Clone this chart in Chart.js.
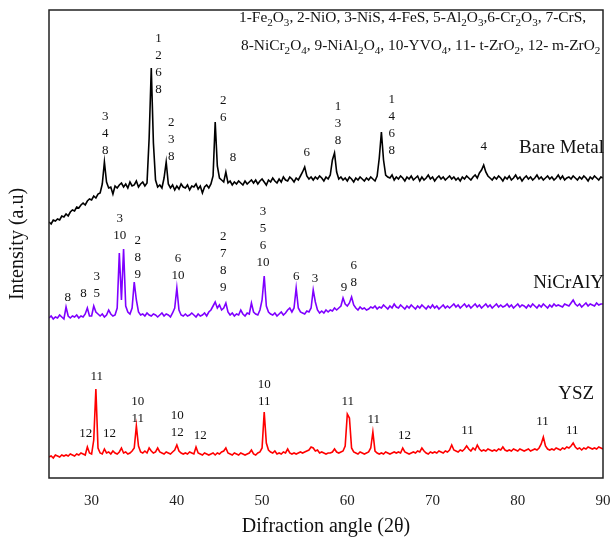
<!DOCTYPE html>
<html>
<head>
<meta charset="utf-8">
<script src="https://cdn.jsdelivr.net/npm/chart.js@4/dist/chart.umd.min.js"></script>
<style>
html,body{margin:0;padding:0;background:#fff;}
#wrap{width:610px;height:539px;}
</style>
</head>
<body>
<div id="wrap"><canvas id="c" width="610" height="539"></canvas></div>
<script>
// ---- data ----
const angleStart = 25;
const angleStep = 0.25;
const xTicks = [30, 40, 50, 60, 70, 80, 90];
const seriesNames = ['Bare Metal', 'NiCrAlY', 'YSZ'];

const bareMetal = [
256,254,258,257, 259,258,262,261, 264,262,266,268, 267,271,270,273, 275,273,277,279,
278,282,280,284, 285,294,316,296, 290,291,284,292, 290,293,295,291, 294,290,296,292,
293,297,291,294, 296,292,295,340, 410,335,298,291, 293,290,300,316, 294,290,293,288,
292,289,294,291, 290,293,288,292, 291,294,289,292, 285,291,293,290, 294,302,356,312,
300,298,296,306, 295,297,293,296, 294,297,295,293, 297,294,296,298, 295,298,294,297,
299,296,293,298, 296,300,297,295, 299,296,301,298, 297,301,299,296, 300,298,302,306,
311,302,299,301, 298,301,299,302, 300,297,301,299, 303,318,325,306, 299,301,298,300,
297,301,299,296, 300,298,301,299, 297,300,298,301, 299,297,302,320, 346,318,303,301,
300,303,298,301, 299,302,300,297, 301,299,302,298, 300,302,297,301, 298,300,303,299,
301,297,300,302, 299,301,298,300, 302,299,301,298, 300,297,301,299, 302,300,298,301,
303,300,305,308, 313,306,302,300, 298,301,299,302, 300,297,301,299, 302,298,300,303,
299,301,297,300, 302,299,301,298, 300,303,299,301, 298,300,302,299, 301,298,300,303,
299,302,298,300, 301,299,302,300, 298,301,299,302, 300,297,301,299, 302,300,298,301,
300];

const nicraly = [
160,162,159,161, 160,163,161,159, 171,162,160,162, 161,163,160,162, 161,164,170,162,
162,172,166,164, 162,164,161,163, 168,164,162,163, 170,225,178,229, 172,166,164,170,
196,178,166,163, 164,162,165,163, 162,164,163,161, 163,165,162,164, 163,161,165,170,
190,168,163,162, 164,162,163,165, 163,161,164,162, 163,165,162,166, 168,172,176,170,
173,168,170,175, 166,163,165,162, 164,163,168,164, 162,165,164,175, 166,164,163,168,
178,202,172,166, 164,163,165,162, 164,166,163,165, 168,170,166,170, 190,170,166,165,
164,167,166,170, 188,176,168,165, 167,165,168,166, 168,167,170,168, 170,172,180,174,
172,175,181,173, 170,168,171,169, 170,168,169,171, 170,172,169,171, 170,173,171,169,
172,170,174,171, 170,173,171,169, 172,170,173,171, 169,172,170,173, 171,169,172,170,
173,170,172,169, 171,173,170,172, 170,172,174,171, 173,170,172,174, 171,173,170,172,
174,171,173,170, 172,174,171,173, 170,172,174,171, 173,171,172,174, 171,173,170,172,
174,171,173,172, 170,173,171,174, 172,170,173,171, 174,172,170,173, 171,174,172,173,
172,171,174,173, 172,175,178,174, 172,174,171,173, 175,172,174,173, 172,175,173,174,
174];

const ysz = [
21,22,20,23, 22,21,23,22, 23,22,24,23, 22,24,23,25, 24,23,31,25,
24,38,89,30, 25,24,29,25, 26,24,27,25, 24,26,30,25, 26,24,25,27,
30,52,32,26, 25,27,25,30, 27,25,26,30, 26,25,24,26, 25,24,26,28,
33,27,25,24, 25,24,26,25, 24,31,25,24, 23,25,24,23, 24,25,23,25,
24,26,27,30, 25,24,23,25, 24,23,25,24, 23,24,25,28, 24,23,25,26,
30,66,35,28, 26,25,27,24, 25,24,26,25, 29,25,24,25, 24,25,26,25,
26,27,28,31, 30,27,28,25, 26,25,24,25, 25,26,29,26, 25,26,27,32,
64,60,30,26, 25,24,26,25, 24,25,26,30, 46,27,25,24, 25,24,26,25,
24,25,26,25, 26,25,30,26, 25,24,25,26, 25,27,26,30, 27,25,24,26,
25,26,25,27, 26,25,27,26, 28,33,28,27, 26,28,27,29, 32,29,27,30,
28,33,29,27, 28,27,29,28, 27,28,27,29, 28,31,28,27, 28,27,29,28,
27,29,28,27, 28,29,27,28, 29,28,30,34, 41,32,29,28, 29,28,30,29,
28,30,29,31, 30,32,35,31, 29,30,28,30, 29,31,30,29, 30,29,31,30,
29];

// peak labels: [angle, intensity of lowest line, stacked phase numbers]
const bareMetalPeakLabels = [
  [31.6, 327, ['3','4','8']],
  [37.85, 388, ['1','2','6','8']],
  [39.35, 321, ['2','3','8']],
  [45.45, 360, ['2','6']],
  [46.6, 320, ['8']],
  [55.25, 325, ['6']],
  [58.9, 337, ['1','3','8']],
  [65.2, 327, ['1','4','6','8']],
  [76.0, 331, ['4']]
];
const nicralyPeakLabels = [
  [27.2, 180, ['8']],
  [29.05, 184, ['8']],
  [30.6, 184, ['3','5']],
  [33.3, 242, ['3','10']],
  [35.4, 203, ['2','8','9']],
  [40.15, 202, ['6','10']],
  [45.45, 190, ['2','7','8','9']],
  [50.1, 215, ['3','5','6','10']],
  [54.0, 201, ['6']],
  [56.2, 199, ['3']],
  [59.6, 190, ['9']],
  [60.75, 195, ['6','8']]
];
const yszPeakLabels = [
  [29.3, 44, ['12']],
  [30.6, 101, ['11']],
  [32.1, 44, ['12']],
  [35.4, 59, ['10','11']],
  [40.05, 45, ['10','12']],
  [42.75, 42, ['12']],
  [50.25, 76, ['10','11']],
  [60.05, 76, ['11']],
  [63.1, 58, ['11']],
  [66.7, 42, ['12']],
  [74.1, 47, ['11']],
  [82.9, 56, ['11']],
  [86.4, 47, ['11']]
];
// series name anchors: angle (right edge), intensity
const seriesNameAngles = [90, 90, 88.85];
const seriesNameValues = [330, 195, 84];

const phaseKeyLine1 = '1-Fe_2O_3, 2-NiO, 3-NiS, 4-FeS, 5-Al_2O_3,6-Cr_2O_3, 7-CrS,';
const phaseKeyLine2 = '8-NiCr_2O_4, 9-NiAl_2O_4, 10-YVO_4, 11- t-ZrO_2, 12- m-ZrO_2';

// ---- chart ----
const colors = ['#000000', '#7f00ff', '#ff0000'];
const serif = '"Liberation Serif", "Times New Roman", serif';

function toXY(arr) {
  return arr.map((v, i) => ({x: angleStart + i * angleStep, y: v}));
}

const framePlugin = {
  id: 'frame',
  afterDatasetsDraw(chart) {
    const a = chart.chartArea, ctx = chart.ctx;
    ctx.save();
    ctx.strokeStyle = '#222';
    ctx.lineWidth = 1.5;
    ctx.strokeRect(a.left, a.top, a.right - a.left, a.bottom - a.top);
    ctx.restore();
  }
};

function drawRich(ctx, str, x, y, size) {
  // '_' marks a single subscript character
  let cx = x;
  for (let i = 0; i < str.length; i++) {
    let ch = str[i];
    if (ch === '_' && i + 1 < str.length) {
      i++;
      ch = str[i];
      ctx.font = (size * 0.72).toFixed(1) + 'px ' + serif;
      ctx.fillText(ch, cx, y + size * 0.3);
      cx += ctx.measureText(ch).width;
    } else {
      ctx.font = size + 'px ' + serif;
      ctx.fillText(ch, cx, y);
      cx += ctx.measureText(ch).width;
    }
  }
  return cx - x;
}

const annotPlugin = {
  id: 'annot',
  afterDraw(chart) {
    const ctx = chart.ctx, xs = chart.scales.x, ys = chart.scales.y;
    ctx.save();
    ctx.fillStyle = '#111';
    ctx.textAlign = 'center';
    ctx.textBaseline = 'middle';
    ctx.font = '13px ' + serif;
    const groups = [bareMetalPeakLabels, nicralyPeakLabels, yszPeakLabels];
    groups.forEach(g => g.forEach(([ang, val, lines]) => {
      const px = xs.getPixelForValue(ang);
      const py = ys.getPixelForValue(val);
      const n = lines.length;
      lines.forEach((t, i) => ctx.fillText(t, px, py - (n - 1 - i) * 17));
    }));
    // series names
    ctx.textAlign = 'right';
    ctx.font = '19px ' + serif;
    seriesNames.forEach((nm, i) => {
      ctx.fillText(nm, xs.getPixelForValue(seriesNameAngles[i]) + 1, ys.getPixelForValue(seriesNameValues[i]));
    });
    // phase key
    ctx.textAlign = 'left';
    ctx.textBaseline = 'middle';
    drawRich(ctx, phaseKeyLine1, 239, 18, 15.4);
    drawRich(ctx, phaseKeyLine2, 241, 46, 15.4);
    ctx.restore();
  }
};

new Chart(document.getElementById('c'), {
  type: 'line',
  data: {
    datasets: [
      {label: seriesNames[0], data: toXY(bareMetal), borderColor: colors[0], borderWidth: 1.6},
      {label: seriesNames[1], data: toXY(nicraly), borderColor: colors[1], borderWidth: 1.6},
      {label: seriesNames[2], data: toXY(ysz), borderColor: colors[2], borderWidth: 1.6}
    ]
  },
  options: {
    responsive: false,
    animation: false,
    devicePixelRatio: 1,
    layout: {padding: {left: 0, right: 7, top: 10, bottom: 0}},
    elements: {point: {radius: 0}, line: {tension: 0}},
    plugins: {legend: {display: false}, tooltip: {enabled: false}},
    scales: {
      x: {
        type: 'linear', min: 25, max: 90,
        grid: {display: false, drawTicks: false},
        border: {display: false},
        ticks: {font: {family: serif, size: 15}, color: '#222', padding: 14, maxRotation: 0},
        afterBuildTicks: s => { s.ticks = xTicks.map(v => ({value: v})); },
        afterFit: s => { s.height = 61; s.paddingLeft = 0; s.paddingRight = 0; },
        title: {display: true, text: 'Difraction angle (2θ)', font: {family: serif, size: 20}, color: '#111', padding: {top: 0, bottom: 0}}
      },
      y: {
        type: 'linear', min: 0, max: 468,
        grid: {display: false, drawTicks: false},
        border: {display: false},
        ticks: {display: false},
        afterFit: s => { s.width = 49; },
        title: {display: true, text: 'Intensity (a.u)', font: {family: serif, size: 20}, color: '#111', padding: {top: 6, bottom: 0}}
      }
    }
  },
  plugins: [framePlugin, annotPlugin]
});
</script>
</body>
</html>
